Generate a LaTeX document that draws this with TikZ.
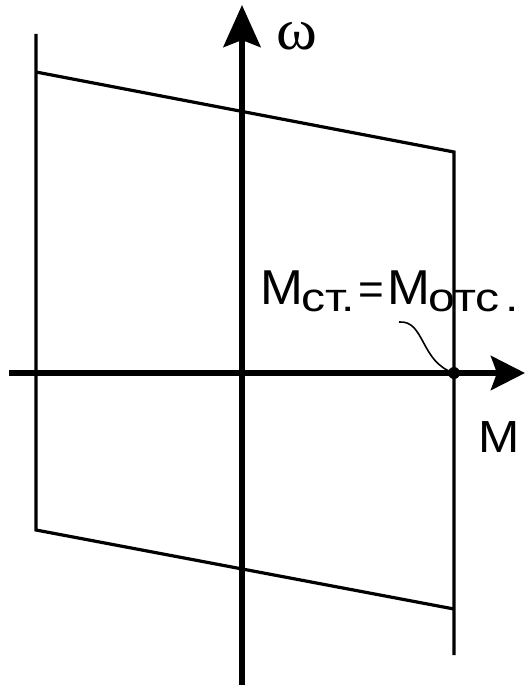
\documentclass[tikz,border=0pt]{standalone}
\usepackage{fontspec}
\setmainfont{Liberation Sans}
\newfontfamily\serifgr{Liberation Serif}
\usetikzlibrary{arrows.meta}
\newcommand{\bigf}{\fontsize{49}{55}\selectfont}
\newcommand{\subf}{\fontsize{40}{45}\selectfont}
\newcommand{\eqf}{\fontsize{44}{50}\selectfont}
\newcommand{\subtxt}[1]{\raisebox{-7pt}{\subf\scalebox{1.2}[1]{#1}}}
\begin{document}
\begin{tikzpicture}[x=1pt,y=-1pt,
  axis/.style={line width=6pt},
  edge/.style={line width=3.2pt, line join=miter},
  lead/.style={line width=1.6pt},
  lbl/.style={inner sep=0pt},
  tipv/.style={-{Stealth[length=42pt,width=37pt,inset=7pt]}},
  tiph/.style={-{Stealth[length=34pt,width=34pt,inset=6pt]}},
  ]
\useasboundingbox (0,0) rectangle (527,685);
% parallelogram
\coordinate (lt) at (36,34);
\coordinate (ul) at (36,72);
\coordinate (ur) at (454,152);
\coordinate (ll) at (36,530);
\coordinate (lr) at (454,609);
\coordinate (rb) at (454,655);
\draw[edge] (lt) -- (ll) -- (lr);
\draw[edge] (ul) -- (ur) -- (rb);
% axes
\coordinate (yb) at (242,685);
\coordinate (yt) at (242,5);
\coordinate (xl) at (9,373);
\coordinate (xr) at (525,373);
\draw[axis,tipv] (yb) -- (yt);
\draw[axis,tiph] (xl) -- (xr);
% labels
\node[lbl, anchor=base west, font=\serifgr\fontsize{58}{64}\selectfont] (om) at (276,50) {\scalebox{1.07}[1]{ω}};
\node[lbl, anchor=base west, font=\fontsize{45}{50}\selectfont] (mx) at (478,452) {\scalebox{1.1}[1]{M}};
\node[lbl, anchor=base west] (eq) at (260,304) {\bigf\scalebox{1.05}[1]{M}\hspace{-2pt}\subtxt{ст.}\hspace{3pt}{\eqf=}\hspace{3.5pt}\scalebox{1.05}[1]{M}\hspace{-1.5pt}\subtxt{отс\hspace{5pt}.}};
% point and leader
\coordinate (dot) at (454,373);
\coordinate (cs) at (399,322);
\draw[lead] (cs) .. controls (425,320) and (420,362) .. (dot);
\fill (dot) circle (6pt);
\end{tikzpicture}
\end{document}
